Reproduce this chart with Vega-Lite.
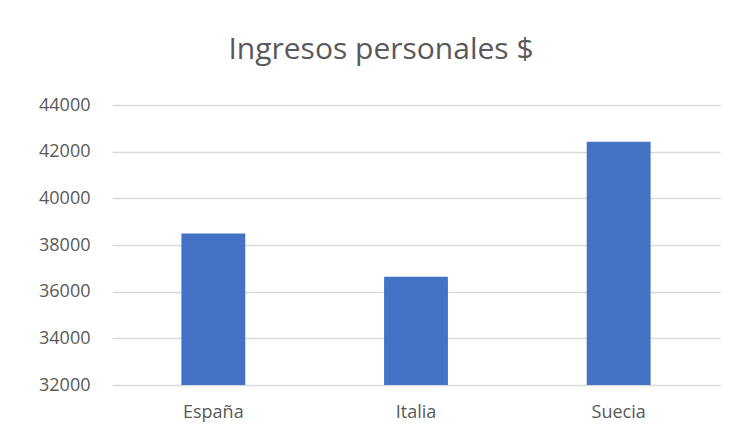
{
  "$schema": "https://vega.github.io/schema/vega-lite/v6.json",
  "autosize": "none",
  "width": 608,
  "height": 280,
  "padding": {"left": 112, "top": 105, "right": 17, "bottom": 54},
  "background": "white",
  "title": {
    "text": "Ingresos personales $",
    "font": "Open Sans, sans-serif",
    "fontSize": 30,
    "fontWeight": "normal",
    "color": "#595959",
    "anchor": "middle",
    "dx": -35,
    "offset": 31
  },
  "data": {
    "values": [
      {"pais": "España", "ingresos": 38490},
      {"pais": "Italia", "ingresos": 36640},
      {"pais": "Suecia", "ingresos": 42420}
    ]
  },
  "mark": {"type": "bar", "color": "#4472C4", "clip": true},
  "encoding": {
    "x": {
      "field": "pais",
      "type": "nominal",
      "sort": null,
      "scale": {"paddingInner": 0.685, "paddingOuter": 0.3425},
      "axis": {
        "title": null,
        "labelAngle": 0,
        "ticks": false,
        "domain": false,
        "labelFont": "Open Sans, sans-serif",
        "labelFontSize": 18,
        "labelColor": "#595959",
        "labelPadding": 18
      }
    },
    "y": {
      "field": "ingresos",
      "type": "quantitative",
      "scale": {"domain": [32000, 44000], "nice": false, "zero": false},
      "axis": {
        "title": null,
        "values": [32000, 34000, 36000, 38000, 40000, 42000, 44000],
        "format": "d",
        "ticks": false,
        "domain": false,
        "labelFont": "Open Sans, sans-serif",
        "labelFontSize": 18,
        "labelColor": "#595959",
        "labelPadding": 22,
        "gridColor": "#d9d9d9",
        "gridWidth": 1.5
      }
    }
  },
  "config": {"view": {"stroke": null}}
}
